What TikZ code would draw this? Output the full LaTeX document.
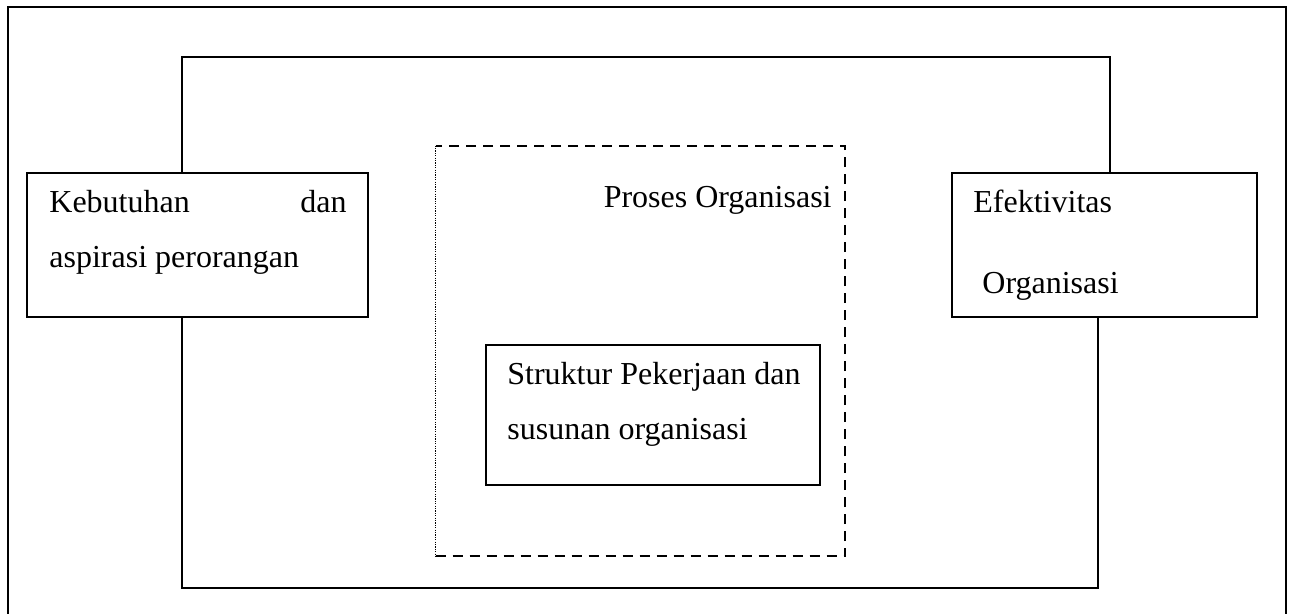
\documentclass[tikz,border=0pt]{standalone}
\usepackage{fontspec}
\setmainfont{Liberation Serif}
\usetikzlibrary{calc}

\tikzset{
  box/.style={draw, line width=1pt, inner sep=0pt},
  txt/.style={inner sep=0pt, font=\fontsize{16}{19}\selectfont},
  wire/.style={line width=1pt},
  dashline/.style={line width=1pt, dash pattern=on 5pt off 3.5pt},
  dotline/.style={line width=0.6pt, dash pattern=on 0.6pt off 0.6pt},
}

\begin{document}
\begin{tikzpicture}[x=0.5pt,y=-0.5pt]
  \useasboundingbox (0,0) rectangle (1291,614);
  \clip (0,0) rectangle (1291,614);
  %outer frame, its bottom edge is below the page
  \coordinate (f1) at (8,640);
  \coordinate (f2) at (8,7);
  \coordinate (f3) at (1286,7);
  \coordinate (f4) at (1286,640);
  \draw[wire] (f1) -- (f2) -- (f3) -- (f4);
  %the two side boxes
  \node[box, minimum width=170.5pt, minimum height=72pt] (kebutuhan) at (197.5,245) {};
  \node[box, minimum width=152.5pt, minimum height=72pt] (efektivitas) at (1104.5,245) {};
  %dashed frame of the process (left side is dotted)
  \node[inner sep=0pt, minimum width=204.5pt, minimum height=205pt] (proses) at (640.5,351) {};
  \draw[dashline] (proses.south west) -- (proses.south east) -- (proses.north east) -- (proses.north west);
  \draw[dotline] (proses.north west) -- (proses.south west);
  %inner box
  \node[box, minimum width=167pt, minimum height=70pt] (struktur) at (653,415) {};
  %the big loop joining the side boxes
  \coordinate (lt) at (182,57);
  \coordinate (rt) at (1110,57);
  \coordinate (lb) at (182,588);
  \coordinate (rb) at (1098,588);
  \draw[wire] (lt |- kebutuhan.north) -- (lt) -- (rt) -- (rt |- efektivitas.north);
  \draw[wire] (lb |- kebutuhan.south) -- (lb) -- (rb) -- (rb |- efektivitas.south);
  %texts
  \node[txt, anchor=base west] (keb1) at (49,213) {Kebutuhan};
  \node[txt, anchor=base east] (keb2) at (347,213) {dan};
  \node[txt, anchor=base west] (keb3) at (49,268) {aspirasi perorangan};
  \node[txt, anchor=base east] (pro1) at (832,208) {Proses Organisasi};
  \node[txt, anchor=base west] (str1) at (507,385) {Struktur Pekerjaan dan};
  \node[txt, anchor=base west] (str2) at (507,440) {susunan organisasi};
  \node[txt, anchor=base west] (efe1) at (973,213) {Efektivitas};
  \node[txt, anchor=base west] (efe2) at (982,294) {Organisasi};
\end{tikzpicture}
\end{document}
